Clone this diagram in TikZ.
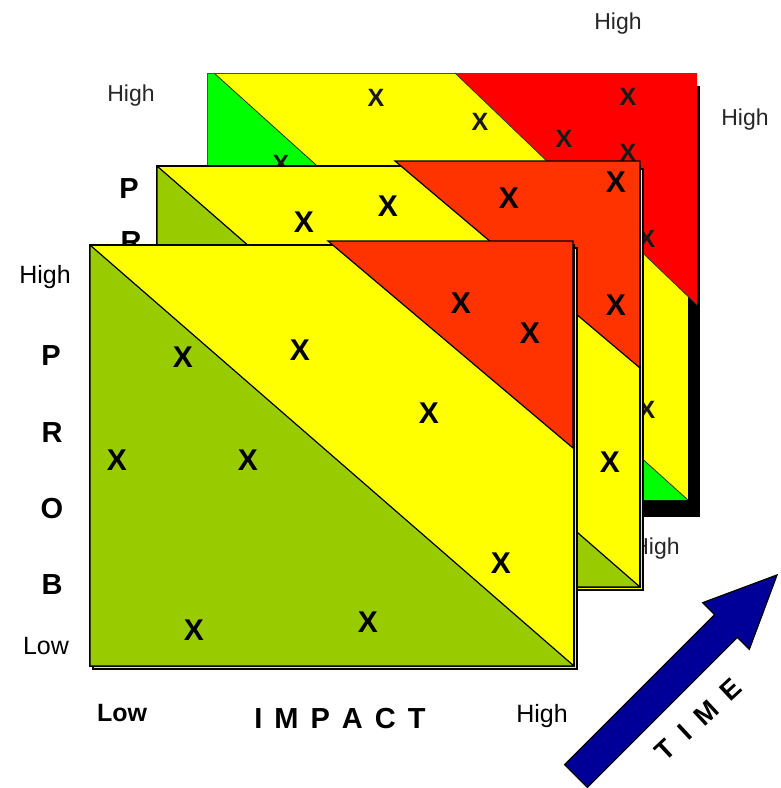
\documentclass[tikz,border=0pt]{standalone}
\usepackage{fontspec}
\setmainfont{Liberation Sans}
\definecolor{olv}{RGB}{153,204,0}
\definecolor{yel}{RGB}{255,255,0}
\definecolor{ored}{RGB}{255,51,0}
\definecolor{bgreen}{RGB}{0,255,0}
\definecolor{bred}{RGB}{255,0,0}
\definecolor{navy}{RGB}{0,0,153}
\begin{document}
\begin{tikzpicture}[x=1pt,y=-1pt,
  lbl/.style={font=\fontsize{25}{25}\selectfont, anchor=base, inner sep=0pt},
  glbl/.style={font=\fontsize{23}{23}\selectfont, anchor=base, inner sep=0pt, text=black!85},
  blbl/.style={font=\bfseries\fontsize{29}{29}\selectfont, anchor=base, inner sep=0pt},
  lowb/.style={font=\bfseries\fontsize{25}{25}\selectfont, anchor=base, inner sep=0pt},
  xmark/.style={font=\bfseries\fontsize{30}{30}\selectfont, inner sep=0pt},
  bxmark/.style={font=\bfseries\fontsize{25}{25}\selectfont, inner sep=0pt, text=black!90},
  panelbox/.style={fill=yel, draw=black, line width=1.4pt},
  greenpart/.style={fill=olv, draw=black, line width=1.2pt, line join=round},
  redpart/.style={fill=ored, draw=black, line width=1.2pt},
  timelet/.style={font=\bfseries\fontsize{27}{27}\selectfont, rotate=43, inner sep=0pt},
]
\path[use as bounding box] (0,0) rectangle (781,788);

% ---------- back panel ----------
\node[glbl] (bhtop) at (618,29) {High};
\node[glbl] (bhleft) at (131,101) {High};
\node[glbl] (bhright) at (745,125) {High};
\node[glbl] (bhbot) at (656,554) {High};

\fill[black] (219,86) rectangle (700,517);
\fill[yel] (207,73) rectangle (688,500);
\fill[bgreen] (207,73) -- (214,73) -- (688,500) -- (207,500) -- cycle;
\draw[black!80, line width=0.8pt] (214,73) -- (688,500);
\fill[bred] (455,73) -- (697,73) -- (697,305) -- cycle;
\draw[black!80, line width=0.8pt] (455,73) -- (697,305);
\draw[black!70, line width=1pt] (207,500) -- (207,73) -- (697,73);

\node[bxmark] (bx1) at (376,98) {X};
\node[bxmark] (bx2) at (480,122) {X};
\node[bxmark] (bx3) at (628,97) {X};
\node[bxmark] (bx4) at (564,139) {X};
\node[bxmark] (bx5) at (628,153) {X};
\node[bxmark] (bx6) at (281,164) {X};
\node[bxmark] (bx7) at (647,239) {X};
\node[bxmark] (bx8) at (647,410) {X};

% ---------- middle panel ----------
\node[blbl] (mp) at (129,198) {P};
\node[blbl] (mr) at (131,251) {R};

\draw[panelbox] (160,169) rectangle (643,590);
\draw[panelbox] (157,166) rectangle (640,587);
\draw[greenpart] (157,166) -- (640,587) -- (157,587) -- cycle;
\draw[redpart] (395,161) -- (640,161) -- (640,368) -- cycle;

\node[xmark] (mx1) at (304,222) {X};
\node[xmark] (mx2) at (388,206) {X};
\node[xmark] (mx3) at (509,198) {X};
\node[xmark] (mx4) at (616,182) {X};
\node[xmark] (mx5) at (616,305) {X};
\node[xmark] (mx6) at (610,462) {X};

% ---------- front panel ----------
\node[lbl] (fhigh) at (45,283) {High};
\node[blbl] (fp) at (51,365) {P};
\node[blbl] (fr) at (52,442) {R};
\node[blbl] (fo) at (52,518) {O};
\node[blbl] (fb) at (52,594) {B};
\node[lbl] (flow) at (46,654) {Low};
\node[lowb] (ilow) at (122,721) {Low};
\node[font=\bfseries\fontsize{29}{29}\selectfont, anchor=base, inner sep=0pt] (impact) at (340,728)
  {I\hspace{12pt}M\hspace{12pt}P\hspace{12pt}A\hspace{12pt}C\hspace{12pt}T};
\node[lbl] (ihigh) at (542,722) {High};

\draw[panelbox] (93,248) rectangle (577,669);
\draw[panelbox] (90,245) rectangle (574,666);
\draw[greenpart] (90,245) -- (574,666) -- (90,666) -- cycle;
\draw[redpart] (328,241) -- (573,241) -- (573,448) -- cycle;

\node[xmark] (fx1) at (183,357) {X};
\node[xmark] (fx2) at (117,460) {X};
\node[xmark] (fx3) at (248,460) {X};
\node[xmark] (fx4) at (300,350) {X};
\node[xmark] (fx5) at (461,303) {X};
\node[xmark] (fx6) at (530,333) {X};
\node[xmark] (fx7) at (429,413) {X};
\node[xmark] (fx8) at (501,563) {X};
\node[xmark] (fx9) at (194,630) {X};
\node[xmark] (fx10) at (368,622) {X};

% ---------- time arrow ----------
\draw[fill=navy, draw=black, line width=1.3pt, line join=miter]
  (564.7,764.7) -- (714.7,614.7) -- (702.7,602.7) -- (777,575)
  -- (749.3,649.3) -- (737.3,637.3) -- (587.3,787.3) -- cycle;
\node[timelet] (tT) at (665,750) {T};
\node[timelet] (tI) at (685,732) {I};
\node[timelet] (tM) at (706,713) {M};
\node[timelet] (tE) at (731,690) {E};
\end{tikzpicture}
\end{document}
